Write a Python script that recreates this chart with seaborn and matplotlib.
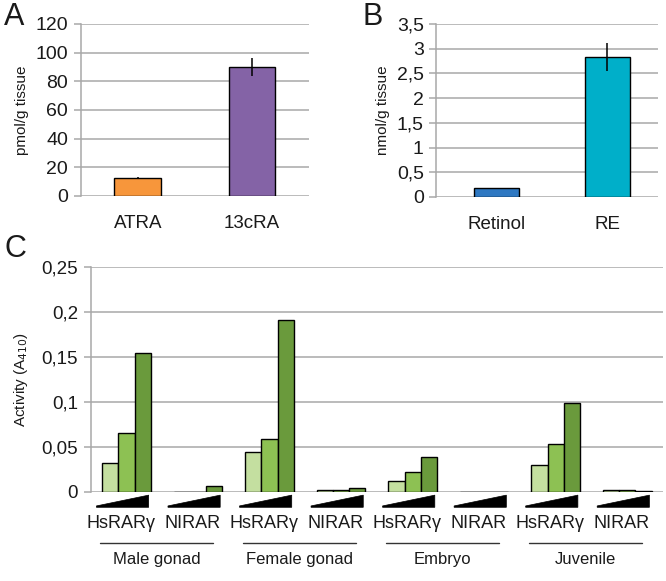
import numpy as np
import pandas as pd
import matplotlib
matplotlib.use("Agg")
import matplotlib.pyplot as plt
import matplotlib.transforms as mtransforms
from matplotlib.patches import Polygon
from matplotlib.ticker import FuncFormatter, MultipleLocator
import seaborn as sns

# ---- data ----
a_cats = ["ATRA", "13cRA"]
a_vals = [12.4, 90.0]
a_errs = [0.8, 6.5]
a_colors = ["#F7963B", "#8463A6"]

b_cats = ["Retinol", "RE"]
b_vals = [0.18, 2.83]
b_errs = [0.01, 0.28]
b_colors = ["#2E78C2", "#00AFC9"]

tissues = ["Male gonad", "Female gonad", "Embryo", "Juvenile"]
receptors = ["HsRARγ", "NIRAR"]
doses = ["low", "mid", "high"]
male_hs = [0.032, 0.066, 0.154]
male_nl = [0.0004, 0.0004, 0.007]
female_hs = [0.044, 0.059, 0.191]
female_nl = [0.002, 0.002, 0.004]
embryo_hs = [0.012, 0.022, 0.039]
embryo_nl = [0.0004, 0.0004, 0.0004]
juvenile_hs = [0.030, 0.053, 0.099]
juvenile_nl = [0.002, 0.002, 0.001]
green_colors = ["#C4DFA0", "#8DC153", "#6A9A3C"]

c_series = [male_hs, male_nl, female_hs, female_nl,
            embryo_hs, embryo_nl, juvenile_hs, juvenile_nl]

sns.set_theme(style="white")
plt.rcParams['font.family'] = ['Liberation Sans', 'DejaVu Sans']

GRID = "#A8A8A8"
TXT = "#1a1a1a"

fig = plt.figure(figsize=(6.66, 5.81), dpi=100)

def comma_fmt(v, pos):
    return ("%g" % round(v, 4)).replace(".", ",")

def style_axes(ax, ymax, step, lsize):
    ax.set_ylim(0, ymax)
    ax.yaxis.set_major_locator(MultipleLocator(step))
    ax.yaxis.set_major_formatter(FuncFormatter(comma_fmt))
    ax.grid(axis="y", color=GRID, linewidth=1.1)
    ax.set_axisbelow(True)
    for s in ["top", "right", "bottom"]:
        ax.spines[s].set_visible(False)
    ax.spines["left"].set_color(GRID)
    ax.spines["left"].set_linewidth(1.1)
    ax.tick_params(axis="y", which="major", left=True, length=5, width=1.1,
                   color=GRID, pad=4, labelsize=lsize, labelcolor=TXT)
    ax.tick_params(axis="x", length=0)

# ---- Panel A ----
axA = fig.add_axes([0.1212, 0.6627, 0.3428, 0.296])
dfA = pd.DataFrame({"cat": a_cats, "val": a_vals})
sns.barplot(data=dfA, x="cat", y="val", hue="cat", palette=a_colors, legend=False,
            width=0.41, saturation=1, edgecolor="black", linewidth=1.0, ax=axA)
axA.errorbar(x=range(len(a_cats)), y=a_vals, yerr=a_errs, fmt="none",
             ecolor="black", elinewidth=1.1, capsize=0)
style_axes(axA, 120, 20, 14)
axA.set_xlim(-0.5, 1.5)
axA.set_xlabel("")
axA.set_ylabel("pmol/g tissue", fontsize=11, labelpad=5, color=TXT)
axA.tick_params(axis="x", labelsize=13.5, pad=14, labelcolor=TXT)
axA.text(14 / 666, 1 - 17 / 581, "A", transform=fig.transFigure, fontsize=22,
         ha="center", va="center", color=TXT)

# ---- Panel B ----
axB = fig.add_axes([0.6551, 0.661, 0.333, 0.2978])
dfB = pd.DataFrame({"cat": b_cats, "val": b_vals})
sns.barplot(data=dfB, x="cat", y="val", hue="cat", palette=b_colors, legend=False,
            width=0.405, saturation=1, edgecolor="black", linewidth=1.0, ax=axB)
axB.errorbar(x=range(len(b_cats)), y=b_vals, yerr=b_errs, fmt="none",
             ecolor="black", elinewidth=1.1, capsize=0)
style_axes(axB, 3.5, 0.5, 14)
axB.set_xlim(-0.54, 1.46)
axB.set_xlabel("")
axB.set_ylabel("nmol/g tissue", fontsize=11, labelpad=5, color=TXT)
axB.tick_params(axis="x", labelsize=13.5, pad=14, labelcolor=TXT)
axB.text(373 / 666, 1 - 17 / 581, "B", transform=fig.transFigure, fontsize=22,
         ha="center", va="center", color=TXT)

# ---- Panel C ----
axC = fig.add_axes([0.1362, 0.1532, 0.8593, 0.3873])
rows = []
slot_keys = []
for ti, t in enumerate(tissues):
    for ri, r in enumerate(receptors):
        key = f"{t}|{r}"
        slot_keys.append(key)
        vals = c_series[ti * 2 + ri]
        for d, v in zip(doses, vals):
            rows.append({"slot": key, "dose": d, "val": v})
dfC = pd.DataFrame(rows)
sns.barplot(data=dfC, x="slot", y="val", hue="dose", order=slot_keys,
            hue_order=doses, palette=green_colors, width=0.68, saturation=1,
            edgecolor="black", linewidth=1.0, legend=False, ax=axC)
style_axes(axC, 0.25, 0.05, 13.5)
axC.set_xlim(-0.5, len(slot_keys) - 0.5)
axC.set_xlabel("")
axC.set_xticks([])
axC.set_ylabel("Activity (A$_{410}$)", fontsize=11, labelpad=8, color=TXT)

trans = mtransforms.blended_transform_factory(axC.transData, axC.transAxes)
for i, key in enumerate(slot_keys):
    x0, x1 = i - 0.42, i + 0.31
    yb, yt = -0.068, -0.014
    tri = Polygon([(x0, yb), (x1, yb), (x1, yt), (x0, yb + 0.006)],
                  closed=True, facecolor="black", edgecolor="black",
                  linewidth=0.5, transform=trans, clip_on=False)
    axC.add_patch(tri)
    axC.text(i - 0.08, -0.142, key.split("|")[1], transform=trans,
             ha="center", va="center", fontsize=13, color=TXT)
for ti, t in enumerate(tissues):
    xs = 2 * ti
    axC.plot([xs - 0.37, xs + 1.21], [-0.225, -0.225], color="#333333",
             linewidth=1.0, transform=trans, clip_on=False)
    axC.text(xs + 0.42, -0.298, t, transform=trans, ha="center", va="center",
             fontsize=12, color=TXT)

axC.text(15 / 666, 1 - 249 / 581, "C", transform=fig.transFigure, fontsize=22,
         ha="center", va="center", color=TXT)

fig.savefig("out.png", dpi=100)
